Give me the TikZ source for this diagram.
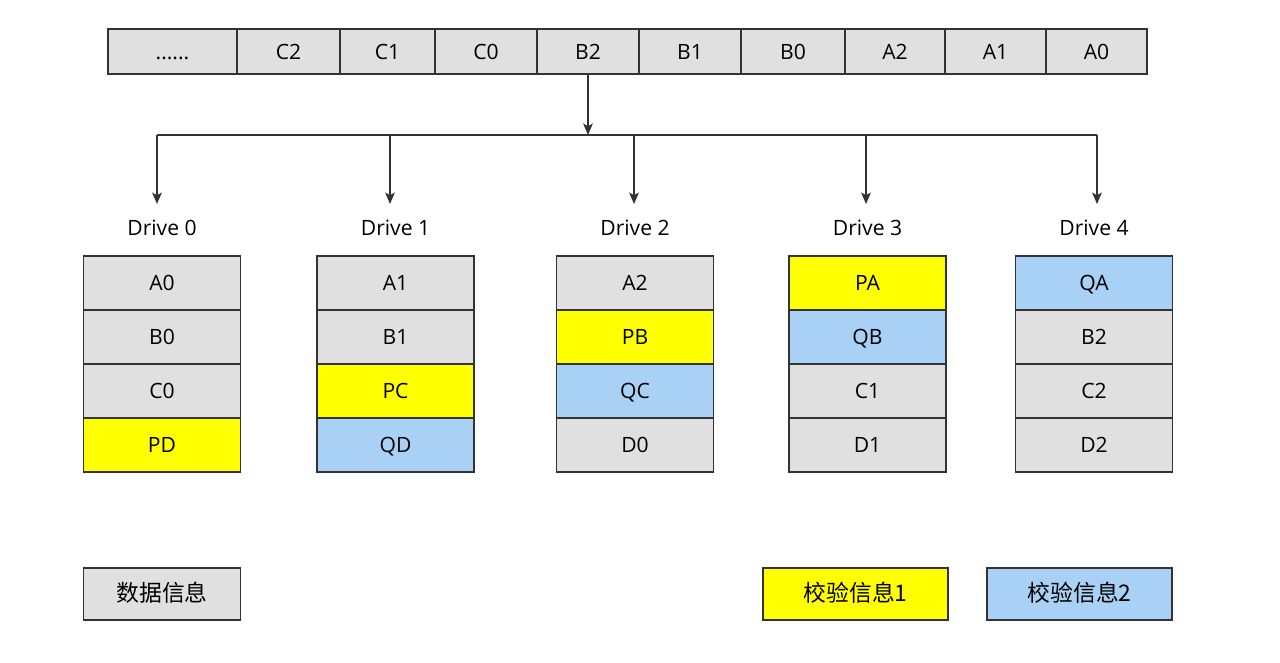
\documentclass[tikz,border=0pt]{standalone}
\usepackage{fontspec}
\setmainfont{Open Sans}
\newfontfamily\cjk{Noto Sans CJK SC}
\usetikzlibrary{arrows.meta}
\definecolor{cellgray}{HTML}{E0E0E0}
\definecolor{pyellow}{HTML}{FFFF00}
\definecolor{qblue}{HTML}{A9D0F5}
\definecolor{edge}{HTML}{333333}
\tikzset{
  cell/.style={draw=edge, line width=0.8pt, fill=cellgray, inner sep=0pt,
    minimum width=3.14cm, minimum height=1.08cm,
    text height=1.7ex, text depth=0pt},
  pcell/.style={cell, fill=pyellow},
  qcell/.style={cell, fill=qblue},
  link/.style={draw=edge, line width=0.8pt},
  tip/.style={link, -{Stealth[length=6.5pt,width=5.5pt,inset=1.5pt]}}
}
\begin{document}
\begin{tikzpicture}[x=0.02cm, y=-0.02cm, font=\fontsize{12}{14}\selectfont]
  \useasboundingbox (0,0) rectangle (1280,662);
  % stripe of blocks
  \node[cell, minimum width=2.58cm, minimum height=0.9cm] (s1) at (172.5,51.5) {......};
  \foreach \l/\r/\t [count=\i from 2] in {237/340/C2, 340/435/C1,
      435/537/C0, 537/639/B2, 639/741/B1, 741/845/B0, 845/945/A2,
      945/1046/A1, 1046/1147/A0}
    \node[cell, minimum width={0.02cm*(\r-\l)}, minimum height=0.9cm]
      (s\i) at ({(\l+\r)/2},51.5) {\t};
  % drives
  \foreach \cx/\ax/\cells [count=\i from 0] in {
      162/157/{A0/cell,B0/cell,C0/cell,PD/pcell},
      395.5/390/{A1/cell,B1/cell,PC/pcell,QD/qcell},
      635/634/{A2/cell,PB/pcell,QC/qcell,D0/cell},
      867.5/866/{PA/pcell,QB/qcell,C1/cell,D1/cell},
      1094/1097/{QA/qcell,B2/cell,C2/cell,D2/cell}} {
    \node (lbl\i) at (\cx,228) {Drive \i};
    \coordinate (drop\i) at (\ax,135);
    \coordinate (end\i) at (\ax,204);
    \foreach \t/\s [count=\j] in \cells
      \node[\s] (d\i-\j) at (\cx,{229+54*\j}) {\t};
  }
  % split
  \coordinate (bus) at (s5.south |- drop0);
  \draw[tip] (s5.south) -- (bus);
  \draw[link] (drop0) -- (drop4);
  \foreach \i in {0,...,4}
    \draw[tip] (drop\i) -- (end\i);
  % legend
  \node[cell, minimum height=1.04cm, font=\cjk\fontsize{13}{15}\selectfont]
    (leg0) at (162,594) {数据信息};
  \node[pcell, minimum width=3.7cm, minimum height=1.04cm,
    font=\cjk\fontsize{13}{15}\selectfont] (leg1) at (855.5,594) {校验信息1};
  \node[qcell, minimum width=3.7cm, minimum height=1.04cm,
    font=\cjk\fontsize{13}{15}\selectfont] (leg2) at (1079.5,594) {校验信息2};
\end{tikzpicture}
\end{document}
